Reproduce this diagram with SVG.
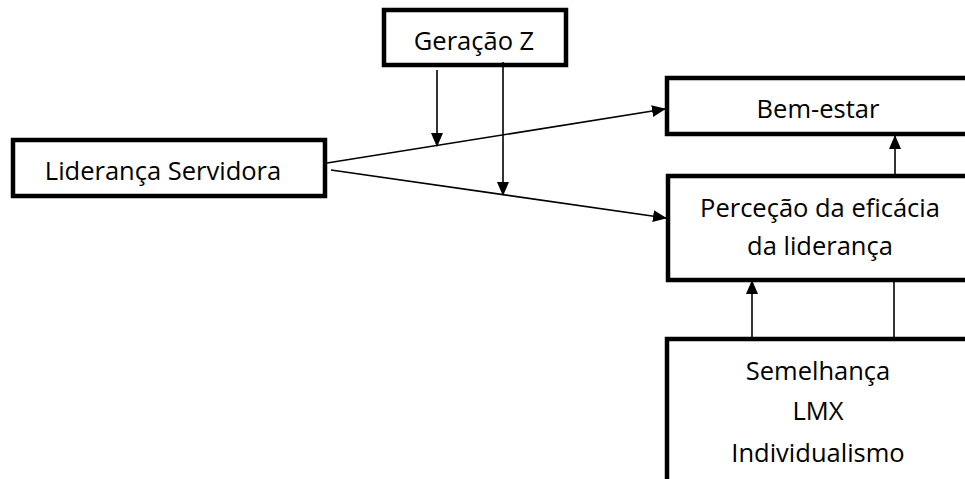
<svg xmlns="http://www.w3.org/2000/svg" width="965" height="479" viewBox="0 0 965 479">
<style>
.box{fill:#fff;stroke:#000;stroke-width:4.5}
.t{font-family:"Open Sans","Liberation Sans",sans-serif;font-size:25.5px;fill:#000;text-anchor:middle}
.c{stroke:#000;stroke-width:1.6;fill:none}
</style>
<defs>
<marker id="ah" markerWidth="14" markerHeight="12" refX="13" refY="6" orient="auto" markerUnits="userSpaceOnUse" viewBox="0 0 14 12">
<path d="M0,0 L14,6 L0,12 Z" fill="#000"/>
</marker>
</defs>
<g id="lideranca">
<rect class="box" x="13" y="140" width="312" height="56"/>
<text class="t" x="163" y="180">Liderança Servidora</text>
</g>
<g id="geracao">
<rect class="box" x="384" y="10" width="182" height="55"/>
<text class="t" x="474" y="50">Geração Z</text>
</g>
<g id="bemestar">
<rect class="box" x="667" y="78" width="305" height="56"/>
<text class="t" x="818" y="118">Bem-estar</text>
</g>
<g id="percecao">
<rect class="box" x="668" y="176" width="305" height="104"/>
<text class="t" x="820" y="217">Perceção da eficácia</text>
<text class="t" x="820" y="255">da liderança</text>
</g>
<g id="semelhanca">
<rect class="box" x="667" y="339" width="305" height="150"/>
<text class="t" x="818" y="380">Semelhança</text>
<text class="t" x="818" y="420">LMX</text>
<text class="t" x="818" y="462">Individualismo</text>
</g>
<g id="connectors">
<line class="c" x1="327" y1="163" x2="665" y2="109" marker-end="url(#ah)"/>
<line class="c" x1="331" y1="170" x2="666" y2="218" marker-end="url(#ah)"/>
<line class="c" x1="437" y1="70" x2="437" y2="146" marker-end="url(#ah)"/>
<line class="c" x1="503" y1="62" x2="503" y2="195" marker-end="url(#ah)"/>
<line class="c" x1="895" y1="175" x2="895" y2="136" marker-end="url(#ah)"/>
<line class="c" x1="752" y1="338" x2="752" y2="281" marker-end="url(#ah)"/>
<line class="c" x1="894" y1="338" x2="894" y2="281"/>
</g>
</svg>
